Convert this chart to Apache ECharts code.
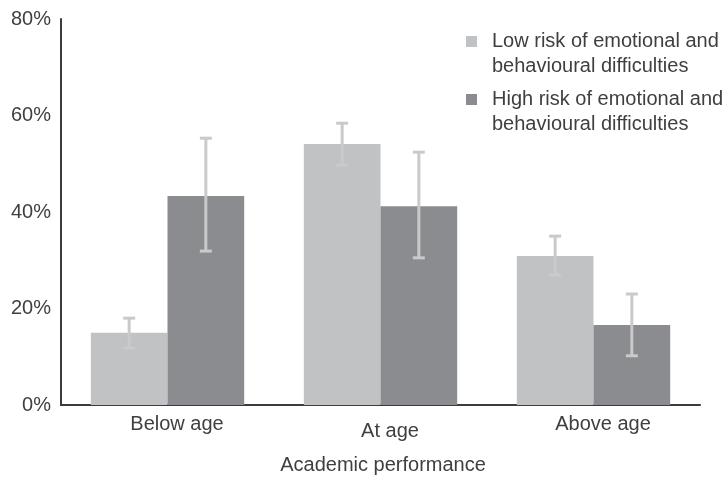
<!DOCTYPE html>
<html>
<head>
<meta charset="utf-8">
<script src="https://cdn.jsdelivr.net/npm/echarts@6/dist/echarts.min.js"></script>
<style>
  html, body { margin: 0; padding: 0; background: #ffffff; }
  #chart { width: 725px; height: 480px; }
</style>
</head>
<body>
<div id="chart"></div>
<script>
// Academic performance by risk of emotional and behavioural difficulties (%)
const categories = ['Below age', 'At age', 'Above age'];
const seriesNames = [
  'Low risk of emotional and\nbehavioural difficulties',
  'High risk of emotional and\nbehavioural difficulties'
];
const lowRisk = [15.0, 54.1, 30.9];
const highRisk = [43.3, 41.2, 16.6];
// 95% confidence intervals
const lowRiskLower = [11.8, 49.7, 26.9];
const lowRiskUpper = [18.0, 58.4, 35.0];
const highRiskLower = [31.9, 30.5, 10.2];
const highRiskUpper = [55.3, 52.4, 23.0];
const yTicks = [0, 20, 40, 60, 80];

const FONT = '"Liberation Sans", Arial, sans-serif';
const TEXT = '#3f3f3f';
const LOW_COLOR = '#c1c2c4';
const HIGH_COLOR = '#8b8c90';
const ERR_COLOR = '#cacaca';
const CAT_GAP = 0.28;

function errorBarRenderer(side) {
  return function (params, api) {
    const idx = api.value(0);
    const lo = api.value(1);
    const hi = api.value(2);
    const band = api.size([1, 0])[0];
    const barW = band * (1 - CAT_GAP) / 2;
    const top = api.coord([idx, hi]);
    const bot = api.coord([idx, lo]);
    const x = top[0] + side * barW / 2;
    const cap = 6;
    const style = { stroke: ERR_COLOR, lineWidth: 3 };
    return {
      type: 'group',
      children: [
        { type: 'line', shape: { x1: x, y1: top[1], x2: x, y2: bot[1] }, style: style },
        { type: 'line', shape: { x1: x - cap, y1: top[1], x2: x + cap, y2: top[1] }, style: style },
        { type: 'line', shape: { x1: x - cap, y1: bot[1], x2: x + cap, y2: bot[1] }, style: style }
      ]
    };
  };
}

const chart = echarts.init(document.getElementById('chart'), null, { renderer: 'canvas' });

// Leading blank line keeps the first text line level with the swatch
const legendText = {
  color: TEXT, fontFamily: FONT, fontSize: 20, lineHeight: 25,
  padding: [0, 0, 0, 10]
};
const legendFormatter = function (name) { return '\n' + name; };

chart.setOption({
  animation: false,
  backgroundColor: '#ffffff',
  grid: { left: 61, right: 25, top: 19, bottom: 75, containLabel: false },
  legend: [
    {
      data: [seriesNames[0]], left: 466, top: 4, orient: 'vertical', padding: 0,
      itemWidth: 11, itemHeight: 11, icon: 'rect', textStyle: legendText,
      formatter: legendFormatter, selectedMode: false
    },
    {
      data: [seriesNames[1]], left: 466, top: 62, orient: 'vertical', padding: 0,
      itemWidth: 11, itemHeight: 11, icon: 'rect', textStyle: legendText,
      formatter: legendFormatter, selectedMode: false
    }
  ],
  xAxis: {
    type: 'category',
    data: categories,
    name: 'Academic performance',
    nameLocation: 'middle',
    nameGap: 50,
    nameTextStyle: { color: TEXT, fontFamily: FONT, fontSize: 20, padding: [0, 0, 0, 5] },
    axisLine: { lineStyle: { color: '#3c3c3c', width: 2 } },
    axisTick: { show: false },
    axisLabel: {
      margin: 9,
      interval: 0,
      formatter: function (v, i) { return i === 1 ? '{b|' + v + '}' : '{a|' + v + '}'; },
      rich: {
        a: { color: TEXT, fontFamily: FONT, fontSize: 20, padding: [0, 0, 0, 19] },
        b: { color: TEXT, fontFamily: FONT, fontSize: 20, padding: [7, 0, 0, 19] }
      }
    }
  },
  yAxis: {
    type: 'value',
    min: yTicks[0],
    max: yTicks[yTicks.length - 1],
    interval: yTicks[1] - yTicks[0],
    axisLine: { show: true, lineStyle: { color: '#3c3c3c', width: 2 } },
    axisTick: { show: false },
    splitLine: { show: false },
    axisLabel: {
      margin: 10,
      color: TEXT, fontFamily: FONT, fontSize: 20,
      formatter: '{value}%'
    }
  },
  series: [
    {
      name: seriesNames[0], type: 'bar', data: lowRisk,
      barGap: '0%', barCategoryGap: (CAT_GAP * 100) + '%',
      itemStyle: { color: LOW_COLOR }
    },
    {
      name: seriesNames[1], type: 'bar', data: highRisk,
      barGap: '0%', barCategoryGap: (CAT_GAP * 100) + '%',
      itemStyle: { color: HIGH_COLOR }
    },
    {
      type: 'custom', z: 5, silent: true,
      renderItem: errorBarRenderer(-1),
      encode: { x: 0, y: [1, 2] },
      data: categories.map((c, i) => [i, lowRiskLower[i], lowRiskUpper[i]])
    },
    {
      type: 'custom', z: 5, silent: true,
      renderItem: errorBarRenderer(1),
      encode: { x: 0, y: [1, 2] },
      data: categories.map((c, i) => [i, highRiskLower[i], highRiskUpper[i]])
    }
  ]
});
</script>
</body>
</html>
